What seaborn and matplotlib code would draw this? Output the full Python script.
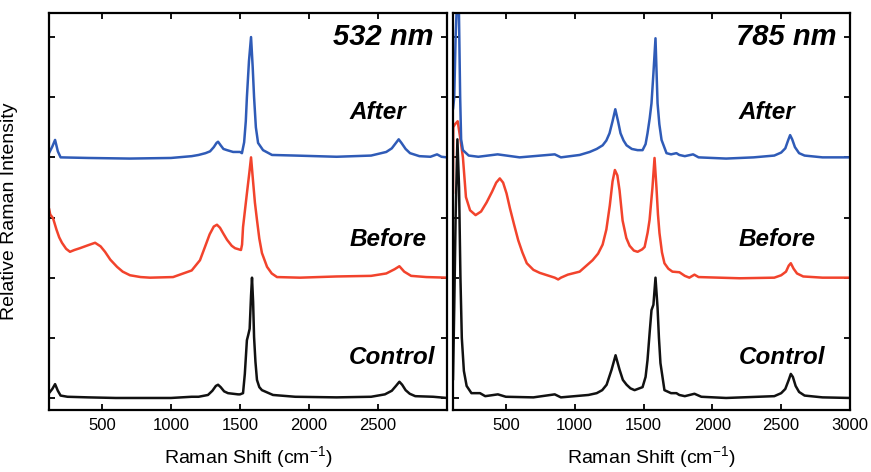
import matplotlib
matplotlib.use("Agg")
import matplotlib.pyplot as plt
import seaborn as sns
import pandas as pd

# ---- 532 nm spectra (vertical offsets: control 0, before 2, after 4) ----
shift_532_control = [116, 140, 160, 180, 200, 250, 400, 600, 800, 1000, 1150, 1200, 1268, 1300,
                     1325, 1341, 1360, 1385, 1413, 1486, 1500, 1522, 1535, 1550, 1560, 1570,
                     1580, 1587, 1595, 1602, 1612, 1623, 1640, 1659, 1739, 1900, 2200, 2450,
                     2550, 2600, 2630, 2655, 2675, 2700, 2730, 2770, 2900, 3000]
int_532_control = [0.08, 0.15, 0.23, 0.12, 0.04, 0.02, 0.01, 0.0, 0.0, 0.0, 0.02, 0.02, 0.05, 0.12,
                   0.2, 0.22, 0.18, 0.11, 0.08, 0.06, 0.06, 0.08, 0.4, 0.96, 1.05, 1.15,
                   1.7, 2.0, 1.6, 1.01, 0.6, 0.3, 0.18, 0.13, 0.05, 0.02, 0.01, 0.02,
                   0.06, 0.12, 0.2, 0.27, 0.22, 0.13, 0.07, 0.03, 0.02, 0.0]

shift_532_before = [116, 125, 145, 170, 190, 210, 240, 268, 300, 340, 400, 450, 490, 522, 560,
                    609, 650, 703, 780, 848, 1015, 1150, 1210, 1246, 1280, 1310, 1333, 1355,
                    1380, 1406, 1440, 1464, 1507, 1515, 1522, 1550, 1568, 1580, 1594, 1608,
                    1623, 1640, 1659, 1696, 1730, 1768, 1935, 2200, 2450, 2560, 2620, 2655,
                    2690, 2740, 2850, 3000]
int_532_before = [3.15, 3.05, 2.99, 2.8, 2.67, 2.58, 2.48, 2.43, 2.46, 2.49, 2.54, 2.58, 2.52, 2.43, 2.3,
                  2.18, 2.1, 2.04, 2.01, 2.0, 2.01, 2.12, 2.29, 2.51, 2.72, 2.85, 2.88, 2.83,
                  2.73, 2.63, 2.53, 2.49, 2.46, 2.55, 2.84, 3.4, 3.75, 4.0, 3.62, 3.25,
                  2.96, 2.65, 2.41, 2.18, 2.07, 2.01, 2.0, 2.02, 2.03, 2.07, 2.14, 2.19,
                  2.1, 2.03, 2.01, 2.0]

shift_532_after = [116, 140, 160, 180, 200, 400, 700, 1000, 1150, 1200, 1250, 1283, 1310, 1330,
                   1341, 1360, 1380, 1406, 1450, 1500, 1514, 1530, 1542, 1550, 1565, 1580,
                   1592, 1602, 1615, 1631, 1667, 1732, 1900, 2200, 2450, 2560, 2600, 2630,
                   2650, 2670, 2700, 2732, 2800, 2880, 2928, 2960, 3000]
int_532_after = [4.07, 4.18, 4.29, 4.1, 4.0, 3.99, 3.98, 3.99, 4.02, 4.04, 4.07, 4.1, 4.17, 4.24,
                 4.26, 4.2, 4.14, 4.12, 4.09, 4.09, 4.07, 4.25, 4.6, 5.0, 5.6, 6.0,
                 5.5, 5.0, 4.5, 4.24, 4.12, 4.04, 4.03, 4.01, 4.03, 4.09, 4.15, 4.24,
                 4.3, 4.24, 4.14, 4.07, 4.02, 4.01, 4.05, 4.01, 4.0]

# ---- 785 nm spectra ----
shift_785_control = [116, 125, 135, 148, 160, 170, 180, 195, 215, 250, 312, 350, 442, 500, 700,
                     855, 900, 1000, 1100, 1160, 1200, 1232, 1268, 1297, 1326, 1350, 1377, 1405,
                     1435, 1493, 1515, 1529, 1545, 1558, 1572, 1587, 1602, 1612, 1623, 1652,
                     1700, 1739, 1760, 1800, 1870, 1920, 2100, 2450, 2500, 2530, 2555, 2570,
                     2585, 2605, 2630, 2670, 2800, 3000]
int_785_control = [0.3, 1.5, 3.0, 4.3, 3.5, 2.0, 1.0, 0.45, 0.2, 0.08, 0.08, 0.03, 0.06, 0.02, 0.01,
                   0.06, 0.01, 0.03, 0.05, 0.08, 0.13, 0.22, 0.47, 0.71, 0.47, 0.3, 0.22, 0.16,
                   0.13, 0.18, 0.35, 0.63, 1.1, 1.46, 1.55, 2.0, 1.5, 1.0, 0.58, 0.13,
                   0.08, 0.08, 0.05, 0.03, 0.07, 0.02, 0.0, 0.03, 0.08, 0.15, 0.3, 0.4,
                   0.35, 0.2, 0.1, 0.04, 0.01, 0.0]

shift_785_before = [116, 118, 130, 150, 170, 188, 210, 240, 280, 320, 360, 400, 430, 456, 480,
                    505, 530, 560, 590, 620, 652, 700, 746, 800, 855, 880, 900, 950, 1036,
                    1130, 1170, 1203, 1230, 1255, 1275, 1292, 1310, 1326, 1348, 1375, 1399,
                    1430, 1457, 1490, 1508, 1530, 1544, 1565, 1580, 1594, 1605, 1616, 1634,
                    1652, 1680, 1710, 1761, 1800, 1833, 1870, 1900, 2200, 2450, 2500, 2535,
                    2555, 2570, 2590, 2615, 2660, 2800, 3000]
int_785_before = [3.4, 4.5, 4.55, 4.6, 4.3, 4.0, 3.34, 3.12, 3.04, 3.1, 3.25, 3.43, 3.58, 3.65, 3.58,
                  3.4, 3.15, 2.88, 2.62, 2.42, 2.24, 2.13, 2.08, 2.04, 2.0, 1.97, 2.0, 2.05, 2.1,
                  2.29, 2.4, 2.55, 2.8, 3.2, 3.6, 3.79, 3.7, 3.45, 2.95, 2.66, 2.53,
                  2.45, 2.43, 2.47, 2.51, 2.75, 2.96, 3.5, 3.99, 3.5, 3.05, 2.74, 2.42,
                  2.24, 2.15, 2.1, 2.09, 2.03, 2.0, 2.05, 2.01, 1.99, 2.0, 2.04, 2.1,
                  2.2, 2.24, 2.15, 2.07, 2.02, 2.0, 2.0]

shift_785_after = [116, 125, 135, 145, 158, 168, 175, 188, 230, 300, 440, 600, 855, 900, 1036,
                   1109, 1160, 1203, 1230, 1253, 1275, 1295, 1315, 1333, 1355, 1377, 1415,
                   1457, 1493, 1515, 1529, 1545, 1558, 1572, 1587, 1595, 1602, 1615, 1631,
                   1667, 1700, 1739, 1760, 1800, 1860, 1900, 2100, 2300, 2450, 2500, 2530,
                   2550, 2565, 2580, 2600, 2630, 2670, 2800, 3000]
int_785_after = [4.8, 5.0, 6.0, 6.6, 6.6, 5.0, 4.3, 4.12, 4.03, 4.01, 4.05, 4.0, 4.05, 4.0, 4.04,
                 4.09, 4.14, 4.2, 4.28, 4.4, 4.6, 4.8, 4.6, 4.4, 4.28, 4.2, 4.14,
                 4.12, 4.12, 4.22, 4.4, 4.65, 4.9, 5.4, 5.98, 5.4, 4.9, 4.55, 4.29,
                 4.07, 4.05, 4.07, 4.04, 4.02, 4.05, 4.0, 3.98, 4.0, 4.03, 4.08, 4.15,
                 4.28, 4.37, 4.3, 4.17, 4.07, 4.03, 4.0, 4.0]

panel_titles = ["532 nm", "785 nm"]
series_names = ["Control", "Before", "After"]
series_colors = {"Control": "#111111", "Before": "#f2432c", "After": "#2f5bb7"}
label_heights = {"After": 4.75, "Before": 2.63, "Control": 0.68}

xticks_532 = [500, 1000, 1500, 2000, 2500]
xticks_785 = [500, 1000, 1500, 2000, 2500, 3000]
yticks = [0, 1, 2, 3, 4, 5, 6]

panels = [
    {"Control": (shift_532_control, int_532_control),
     "Before": (shift_532_before, int_532_before),
     "After": (shift_532_after, int_532_after)},
    {"Control": (shift_785_control, int_785_control),
     "Before": (shift_785_before, int_785_before),
     "After": (shift_785_after, int_785_after)},
]

sns.set_theme(style="ticks")
plt.rcParams["font.family"] = ["Liberation Sans", "DejaVu Sans"]
plt.rcParams["mathtext.default"] = "regular"
plt.rcParams["text.color"] = "black"
plt.rcParams["axes.labelcolor"] = "black"

fig = plt.figure(figsize=(8.71, 4.72), dpi=100)
ax_left = fig.add_axes([49 / 871, 62 / 472, 398 / 871, 397 / 472])
ax_right = fig.add_axes([453 / 871, 62 / 472, 397 / 871, 397 / 472])
axes = [ax_left, ax_right]

label_x = [0.754, 0.72]
draw_order = ["Before", "Control", "After"]

for i, ax in enumerate(axes):
    for name in draw_order:
        xs, ys = panels[i][name]
        df = pd.DataFrame({"shift": xs, "intensity": ys})
        sns.lineplot(data=df, x="shift", y="intensity", ax=ax, sort=False,
                     estimator=None, color=series_colors[name], linewidth=1.8)
    ax.set_xlim(116, 3000)
    ax.set_ylim(-0.2, 6.4)
    ax.set_xticks(xticks_532 if i == 0 else xticks_785)
    ax.set_yticks(yticks)
    ax.set_yticklabels([])
    ax.tick_params(direction="in", length=4, width=1.3, top=True, right=True,
                   labelsize=12, pad=6, colors="black")
    for sp in ax.spines.values():
        sp.set_linewidth(1.6)
        sp.set_color("black")
    ax.set_xlabel("Raman Shift (cm$^{-1}$)", fontsize=14, color="black")
    ax.xaxis.set_label_coords(0.5, -0.085)
    ax.set_ylabel("")
    for name in series_names:
        ax.text(label_x[i], label_heights[name], name, transform=ax.get_yaxis_transform(),
                fontsize=17.5, fontweight="bold", fontstyle="italic", color="black",
                ha="left", va="center")
    ax.text(0.965, 6.0, panel_titles[i], transform=ax.get_yaxis_transform(),
            fontsize=21, fontweight="bold", fontstyle="italic", color="black",
            ha="right", va="center")

ax_left.set_ylabel("Relative Raman Intensity", fontsize=14, color="black")
ax_left.yaxis.set_label_coords(-0.078, 0.5)

fig.savefig("out.png", dpi=100)
